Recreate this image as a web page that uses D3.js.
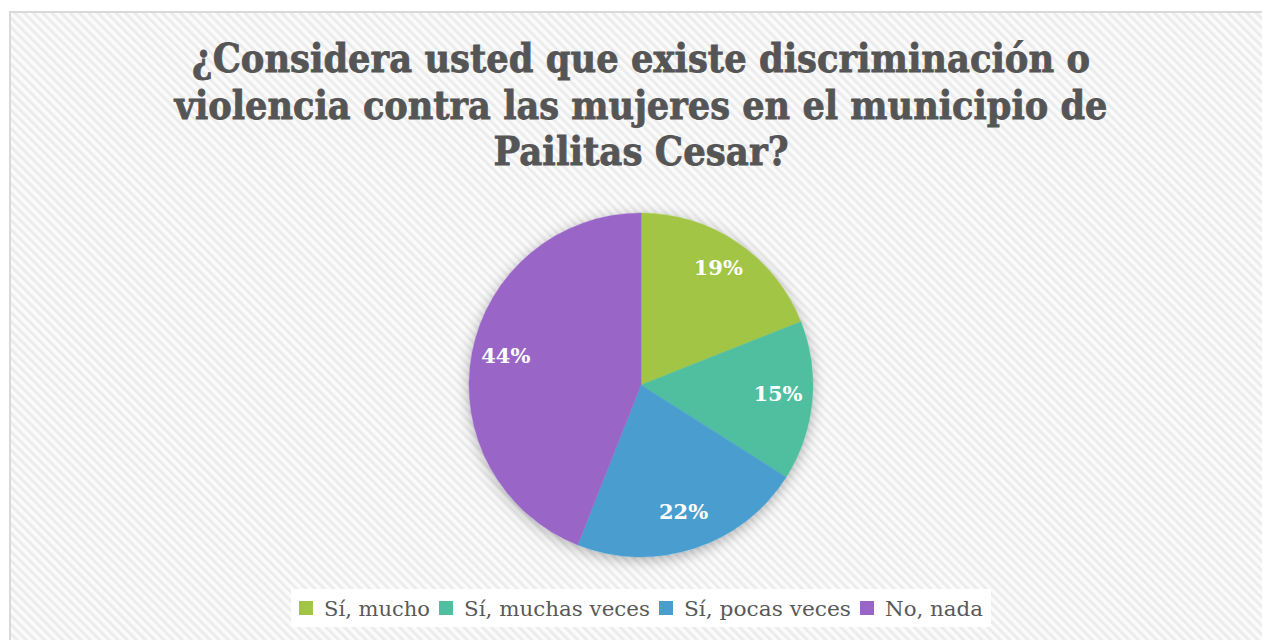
<!DOCTYPE html>
<html><head><meta charset="utf-8">
<script src="https://cdn.jsdelivr.net/npm/d3@7"></script>
<style>html,body{margin:0;padding:0;background:#fff;}svg{display:block;}</style>
</head><body>
<svg id="c" width="1262" height="640"></svg>
<script>
const categories = ["Sí, mucho", "Sí, muchas veces", "Sí, pocas veces", "No, nada"];
const values = [19, 15, 22, 44];
const colors = ["#A2C545", "#50BFA0", "#4A9ECF", "#9966C8"];
const titleLines = ["¿Considera usted que existe discriminación o", "violencia contra las mujeres en el municipio de", "Pailitas Cesar?"];

const W = 1262, H = 640;
const svg = d3.select("#c");
const defs = svg.append("defs");
const pat = defs.append("pattern").attr("id","stripes").attr("patternUnits","userSpaceOnUse")
  .attr("width",6.5).attr("height",6.5).attr("patternTransform","rotate(-45)");
pat.append("rect").attr("width",6.5).attr("height",6.5).attr("fill","#fbfbfb");
pat.append("rect").attr("width",3).attr("height",6.5).attr("fill","#ececec");
const f = defs.append("filter").attr("id","sh").attr("x","-20%").attr("y","-20%").attr("width","140%").attr("height","140%");
f.append("feDropShadow").attr("dx",0).attr("dy",3).attr("stdDeviation",7).attr("flood-color","#000").attr("flood-opacity",0.3);

svg.append("rect").attr("x",0).attr("y",0).attr("width",W).attr("height",H).attr("fill","#fff");
svg.append("rect").attr("x",10).attr("y",12).attr("width",W+20).attr("height",H+20)
  .attr("fill","url(#stripes)").attr("stroke","#d9d9d9").attr("stroke-width",2);

// title
const titleFont = "'DejaVu Serif', serif";
const titleTargets = [898, 933, 295];
const baselines = [72, 119, 165];
titleLines.forEach((t,i)=>{
  svg.append("text").attr("x",641).attr("y",baselines[i]).attr("text-anchor","middle")
    .attr("font-family",titleFont).attr("font-weight","bold").attr("font-size",39)
    .attr("fill","#555555").attr("stroke","#555555").attr("stroke-width",0.8)
    .attr("textLength",titleTargets[i]).attr("lengthAdjust","spacingAndGlyphs")
    .text(t);
});

// pie
const cx = 641, cy = 385, r = 172;
const pie = d3.pie().sort(null).value(d=>d)(values);
const arc = d3.arc().innerRadius(0).outerRadius(r);
const g = svg.append("g").attr("transform",`translate(${cx},${cy})`);
g.append("circle").attr("r",r).attr("fill","#fff").attr("filter","url(#sh)");
g.selectAll("path").data(pie).enter().append("path")
  .attr("d",arc).attr("fill",(d,i)=>colors[i]).attr("stroke",(d,i)=>colors[i]).attr("stroke-width",0.5);
const labelArc = d3.arc().innerRadius(r*0.8).outerRadius(r*0.8);
g.selectAll("text.lbl").data(pie).enter().append("text").attr("class","lbl")
  .attr("transform",d=>{const c=labelArc.centroid(d);return `translate(${c[0]},${c[1]-4})`;})
  .attr("text-anchor","middle").attr("dy","0.35em")
  .attr("font-family",titleFont).attr("font-weight","bold").attr("font-size",21)
  .attr("fill","#fff").text(d=>d.data+"%");

// legend
const legFont = "'DejaVu Serif', serif";
const legWidths = [106, 186, 167, 98];
const lg = svg.append("g");
const bg = lg.append("rect").attr("fill","#ffffff");
let x = 0;
const items = [];
categories.forEach((c,i)=>{
  const it = lg.append("g");
  it.append("rect").attr("x",0).attr("y",-15).attr("width",14).attr("height",14).attr("fill",colors[i]);
  it.append("text").attr("x",25).attr("y",0).attr("font-family",legFont).attr("font-size",20)
    .attr("fill","#595959").attr("textLength",legWidths[i]).attr("lengthAdjust","spacingAndGlyphs").text(c);
  items.push({it, x});
  x += 25 + legWidths[i] + 9;
});
const total = x - 9;
const x0 = 641 - total/2;
items.forEach(o=>o.it.attr("transform",`translate(${x0+o.x},616)`));
bg.attr("x",x0-8).attr("y",589).attr("width",total+16).attr("height",38);
</script>
</body></html>
